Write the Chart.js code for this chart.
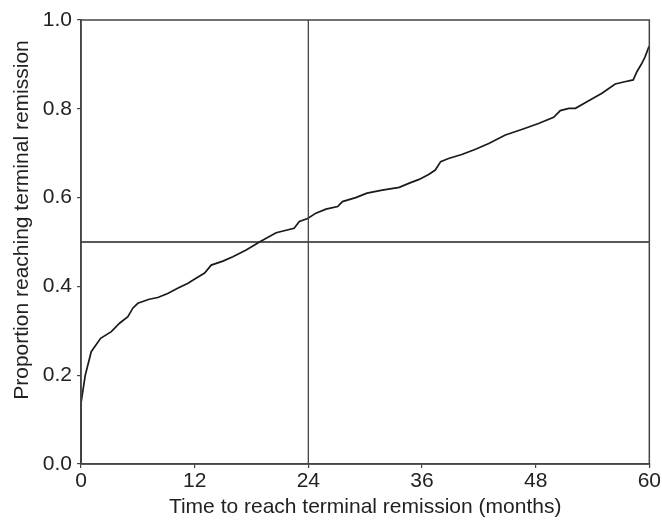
<!DOCTYPE html>
<html>
<head>
<meta charset="utf-8">
<script src="https://cdn.jsdelivr.net/npm/chart.js@4/dist/chart.umd.min.js"></script>
<style>
html,body{margin:0;padding:0;background:#fff;}
#wrap{width:662px;height:520px;}
</style>
</head>
<body>
<div id="wrap"><canvas id="c" width="662" height="520"></canvas></div>
<script>
// Time (months) and cumulative proportion reaching terminal remission
const months = [0, 0, 0.45, 1.08, 2.07, 3.2, 4.07, 4.95, 5.47, 6.0, 7.2, 8.1, 9.16, 10.2, 11.3, 11.8, 13.05, 13.75, 14.98, 16.03, 17.44, 18.84, 20.6, 22.5, 23.05, 23.93, 24.8, 25.86, 27.1, 27.6, 29.0, 30.2, 31.8, 33.6, 34.6, 35.7, 36.7, 37.4, 37.97, 38.8, 40.2, 41.65, 43.05, 44.8, 46.6, 48.3, 49.9, 50.6, 51.5, 52.2, 53.6, 55.0, 56.4, 57.4, 58.3, 58.7, 59.2, 59.55, 59.97];
const proportion = [0, 0.137, 0.2, 0.253, 0.283, 0.298, 0.317, 0.332, 0.351, 0.362, 0.371, 0.375, 0.384, 0.396, 0.407, 0.414, 0.43, 0.448, 0.457, 0.467, 0.482, 0.5, 0.521, 0.531, 0.546, 0.553, 0.565, 0.574, 0.58, 0.591, 0.6, 0.61, 0.617, 0.623, 0.632, 0.641, 0.652, 0.662, 0.681, 0.688, 0.697, 0.709, 0.722, 0.741, 0.754, 0.767, 0.781, 0.796, 0.801, 0.801, 0.818, 0.835, 0.856, 0.861, 0.865, 0.884, 0.902, 0.917, 0.941];
// Reference lines
const refMonth = 24;
const refProportion = 0.5;
// Axis ranges / ticks
const xTicks = [0, 12, 24, 36, 48, 60];
const yTicks = [0.0, 0.2, 0.4, 0.6, 0.8, 1.0];
const xTitle = 'Time to reach terminal remission (months)';
const yTitle = 'Proportion reaching terminal remission';

const curve = months.map((t, i) => ({x: t, y: proportion[i]}));
const xMin = xTicks[0], xMax = xTicks[xTicks.length - 1];
const yMin = yTicks[0], yMax = yTicks[yTicks.length - 1];

const FONT = "'Liberation Sans', Arial, Helvetica, sans-serif";

const boxPlugin = {
  id: 'box',
  afterDraw(chart) {
    const {ctx, chartArea: a} = chart;
    ctx.save();
    ctx.strokeStyle = '#444';
    ctx.lineWidth = 1.5;
    ctx.strokeRect(a.left, a.top, a.right - a.left, a.bottom - a.top);
    // y-axis title (placed as in the reference, slightly above the centre)
    ctx.fillStyle = '#222';
    ctx.font = '21px ' + FONT;
    ctx.textAlign = 'center';
    ctx.textBaseline = 'middle';
    ctx.translate(22, 220);
    ctx.rotate(-Math.PI / 2);
    ctx.fillText(yTitle, 0, 0);
    ctx.restore();
  }
};

new Chart(document.getElementById('c'), {
  type: 'scatter',
  data: {
    datasets: [
      {
        data: [{x: refMonth, y: yMin}, {x: refMonth, y: yMax}],
        showLine: true, borderColor: '#444', borderWidth: 1.3, pointRadius: 0, fill: false
      },
      {
        data: [{x: xMin, y: refProportion}, {x: xMax, y: refProportion}],
        showLine: true, borderColor: '#222', borderWidth: 1.3, pointRadius: 0, fill: false
      },
      {
        data: curve,
        showLine: true, borderColor: '#1a1a1a', borderWidth: 1.7, pointRadius: 0, fill: false, tension: 0
      }
    ]
  },
  options: {
    responsive: false,
    animation: false,
    devicePixelRatio: 1,
    layout: {padding: {left: 0, top: 20, right: 11, bottom: 0}},
    plugins: {legend: {display: false}, tooltip: {enabled: false}},
    scales: {
      x: {
        type: 'linear', min: xMin, max: xMax,
        afterBuildTicks(s) { s.ticks = xTicks.map(v => ({value: v})); },
        afterFit(s) { s.height = 56; },
        grid: {drawOnChartArea: false, drawTicks: true, tickLength: 4, color: '#444', lineWidth: 1.2},
        border: {display: true, color: '#444', width: 1.5},
        ticks: {color: '#222', padding: 1, font: {family: FONT, size: 21}, maxRotation: 0,
          callback: v => String(v)},
        title: {display: true, text: xTitle, color: '#222',
          font: {family: FONT, size: 21}, padding: {top: 0, bottom: 0}}
      },
      y: {
        type: 'linear', min: yMin, max: yMax,
        afterBuildTicks(s) { s.ticks = yTicks.map(v => ({value: v})); },
        afterFit(s) { s.width = 81; },
        grid: {drawOnChartArea: false, drawTicks: true, tickLength: 4, color: '#444', lineWidth: 1.2},
        border: {display: true, color: '#444', width: 1.5},
        ticks: {color: '#222', padding: 5, font: {family: FONT, size: 21},
          callback: v => Number(v).toFixed(1)},
        title: {display: false}
      }
    }
  },
  plugins: [boxPlugin]
});
</script>
</body>
</html>
